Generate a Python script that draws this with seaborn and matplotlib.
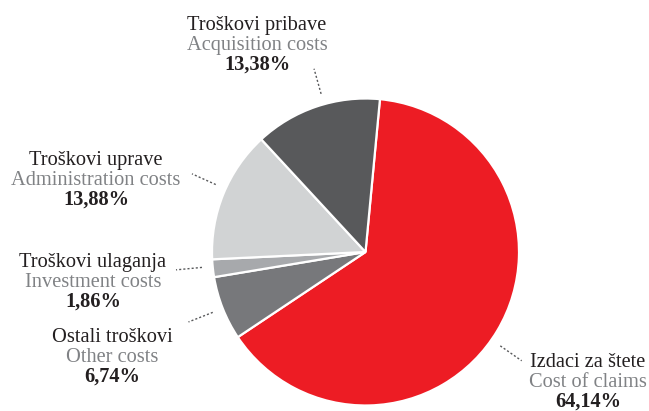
import numpy as np
import matplotlib
matplotlib.use('Agg')
import matplotlib.pyplot as plt
import seaborn as sns

# ── Data ─────────────────────────────────────────────────────
labels_hr = ['Izdaci za štete', 'Ostali troškovi', 'Troškovi ulaganja',
             'Troškovi uprave', 'Troškovi pribave']
labels_en = ['Cost of claims', 'Other costs', 'Investment costs',
             'Administration costs', 'Acquisition costs']
shares = [64.14, 6.74, 1.86, 13.88, 13.38]

# ── Style ────────────────────────────────────────────────────
sns.set_theme(style='white')
plt.rcParams['font.family'] = ['Liberation Serif', 'DejaVu Serif']
colors = ['#ED1C24', '#77787B', '#A7A9AC', '#D1D3D4', '#58595B']
DARK = '#231F20'
GREY = '#808285'
FS = 14.7

W, H = 649, 411
fig = plt.figure(figsize=(W / 100, H / 100), dpi=100)
ax = fig.add_axes([0, 0, 1, 1])

cx, cy, R = 365.5, H - 252, 153.5
start = 84.6
wedges, _ = ax.pie(shares, colors=colors, startangle=start, counterclock=False,
                   center=(cx, cy), radius=R, frame=True,
                   wedgeprops=dict(edgecolor='white', linewidth=1.6))
ax.set_xlim(0, W)
ax.set_ylim(0, H)
ax.axis('off')

# label layout (pixel coords: centre x, first baseline y) and leader nudges
label_pos = [(588, 367), (112, 342), (93, 267), (96, 165), (257, 30)]
nudge = [-4, 0, -0.7, -2, -3]
r_in, r_out = 1.07, 1.24

for w, hr, en, val, (tx, ty), dn in zip(wedges, labels_hr, labels_en, shares,
                                       label_pos, nudge):
    ang = np.deg2rad((w.theta1 + w.theta2) / 2 + dn)
    xs = [cx + R * r_in * np.cos(ang), cx + R * r_out * np.cos(ang)]
    ys = [cy + R * r_in * np.sin(ang), cy + R * r_out * np.sin(ang)]
    ax.plot(xs, ys, color='#58595B', lw=1.0, ls=(0, (1.5, 1.5)))
    pct = f'{val:.2f}'.replace('.', ',') + '%'
    ax.text(tx, H - ty, hr, ha='center', va='baseline', fontsize=FS, color=DARK)
    ax.text(tx, H - ty - 20, en, ha='center', va='baseline', fontsize=FS, color=GREY)
    ax.text(tx, H - ty - 40, pct, ha='center', va='baseline', fontsize=FS,
            color=DARK, fontweight='bold')

fig.savefig('out.png', dpi=100, facecolor='white')
